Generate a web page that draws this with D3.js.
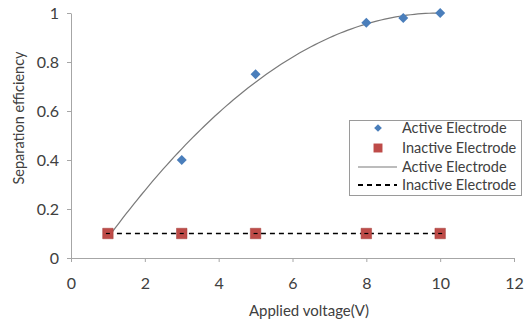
<!DOCTYPE html>
<html><head><meta charset="utf-8">
<script src="https://cdn.jsdelivr.net/npm/d3@7"></script>
<style>body{margin:0;background:#fff}svg{display:block}text{font-family:Lato,"Open Sans",sans-serif;fill:#404040}</style>
</head><body><svg id="c" width="529" height="322"></svg>
<script>
const activeX = [1, 3, 5, 8, 9, 10];
const activeY = [0.1, 0.4, 0.75, 0.96, 0.98, 1.0];
const inactiveX = [1, 3, 5, 8, 10];
const inactiveY = [0.1, 0.1, 0.1, 0.1, 0.1];
const xTicks = [0, 2, 4, 6, 8, 10, 12];
const yTicks = [0, 0.2, 0.4, 0.6, 0.8, 1];
const legendLabels = ["Active Electrode", "Inactive Electrode", "Active Electrode", "Inactive Electrode"];

const svg = d3.select("#c");
const x = d3.scaleLinear().domain([0, 12]).range([71, 514]);
const y = d3.scaleLinear().domain([0, 1]).range([258, 13]);
const axisCol = "#a6a6a6";

// axes
const gx = svg.append("g").attr("transform", `translate(0,${y(0)})`)
  .call(d3.axisBottom(x).tickValues(xTicks).tickSize(4).tickSizeOuter(0).tickPadding(16).tickFormat(d3.format("d")));
const gy = svg.append("g").attr("transform", `translate(${x(0)},0)`)
  .call(d3.axisLeft(y).tickValues(yTicks).tickSize(4).tickSizeOuter(0).tickPadding(8).tickFormat(d => d === 0 || d === 1 ? d3.format("d")(d) : d3.format(".1f")(d)));
[gx, gy].forEach(g => {
  g.selectAll("path,line").attr("stroke", axisCol);
  g.selectAll("text").style("font-size", "16px").style("fill", "#404040").style("font-family", "Lato, sans-serif");
});

svg.append("text").attr("x", 309).attr("y", 316).attr("text-anchor", "middle").style("font-size", "15px").text("Applied voltage(V)");
svg.append("text").attr("transform", "translate(24,118) rotate(-90)").attr("text-anchor", "middle").style("font-size", "14.5px").text("Separation efficiency");

// polynomial (2nd order) least-squares trendline of the active data
function polyFit(xs, ys) {
  const S = k => d3.sum(xs, v => Math.pow(v, k));
  const T = k => d3.sum(xs, (v, i) => Math.pow(v, k) * ys[i]);
  const A = [[S(0), S(1), S(2), T(0)], [S(1), S(2), S(3), T(1)], [S(2), S(3), S(4), T(2)]];
  for (let i = 0; i < 3; i++) {
    for (let j = i + 1; j < 3; j++) {
      const f = A[j][i] / A[i][i];
      for (let k = i; k < 4; k++) A[j][k] -= f * A[i][k];
    }
  }
  const c = [0, 0, 0];
  for (let i = 2; i >= 0; i--) {
    let s = A[i][3];
    for (let k = i + 1; k < 3; k++) s -= A[i][k] * c[k];
    c[i] = s / A[i][i];
  }
  return c;
}
const coef = polyFit(activeX, activeY);
const xs = d3.range(activeX[0], activeX[activeX.length - 1] + 0.001, 0.1);
const trend = xs.map(v => [v, coef[0] + coef[1] * v + coef[2] * v * v]);
svg.append("path").datum(trend)
  .attr("d", d3.line().x(d => x(d[0])).y(d => y(d[1])))
  .attr("fill", "none").attr("stroke", "#7a7a7a").attr("stroke-width", 1.2);

// inactive dashed line
const inactive = inactiveX.map((v, i) => [v, inactiveY[i]]);
svg.append("path").datum(inactive)
  .attr("d", d3.line().x(d => x(d[0])).y(d => y(d[1])))
  .attr("fill", "none").attr("stroke", "#000").attr("stroke-width", 1.5).attr("stroke-dasharray", "5,4");

const sq = d3.symbol().type(d3.symbolSquare).size(110);
const dia = d3.symbol().type(d3.symbolSquare).size(50);

svg.append("g").selectAll("path").data(inactive).join("path")
  .attr("d", sq).attr("transform", d => `translate(${x(d[0])},${y(d[1])})`)
  .attr("fill", "#be4b48").attr("stroke", "#a03c39").attr("stroke-width", 0.5);
svg.append("g").selectAll("line").data(inactive).join("line")
  .attr("x1", d => x(d[0]) - 2).attr("x2", d => x(d[0]) + 2)
  .attr("y1", d => y(d[1])).attr("y2", d => y(d[1]))
  .attr("stroke", "#000").attr("stroke-width", 1.2);

const active = activeX.map((v, i) => [v, activeY[i]]).filter(d => d[0] !== 1);
svg.append("g").selectAll("path").data(active).join("path")
  .attr("d", dia).attr("transform", d => `translate(${x(d[0])},${y(d[1])}) rotate(45)`)
  .attr("fill", "#4a7ebb");

// legend
const lg = svg.append("g");
lg.append("rect").attr("x", 349.5).attr("y", 120.5).attr("width", 172).attr("height", 75)
  .attr("fill", "#fff").attr("stroke", "#9a9a9a");
const rows = [128, 148, 167, 185];
lg.append("path").attr("d", d3.symbol().type(d3.symbolSquare).size(30)).attr("transform", `translate(378,${rows[0]}) rotate(45)`).attr("fill", "#4a7ebb");
lg.append("path").attr("d", d3.symbol().type(d3.symbolSquare).size(80)).attr("transform", `translate(378,${rows[1]})`).attr("fill", "#be4b48");
lg.append("line").attr("x1", 358).attr("x2", 397).attr("y1", rows[2]).attr("y2", rows[2]).attr("stroke", "#7a7a7a").attr("stroke-width", 1.2);
lg.append("line").attr("x1", 358).attr("x2", 397).attr("y1", rows[3]).attr("y2", rows[3]).attr("stroke", "#000").attr("stroke-width", 2).attr("stroke-dasharray", "5,4");
lg.selectAll("text.l").data(legendLabels).join("text").attr("class", "l")
  .attr("x", 402).attr("y", (d, i) => rows[i] + 5).style("font-size", "14.5px").text(d => d);
</script></body></html>
